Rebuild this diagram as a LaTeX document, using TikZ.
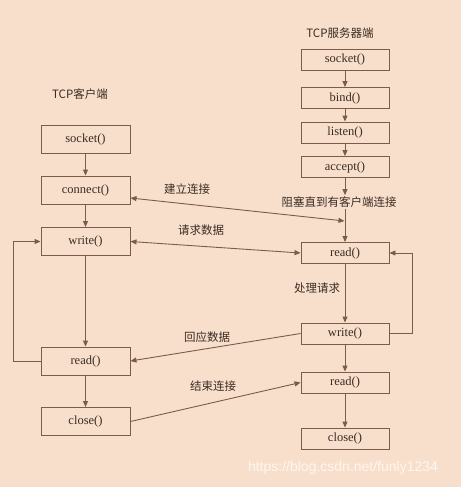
\documentclass[tikz,border=0pt]{standalone}
\usepackage{fontspec}
\setmainfont{Liberation Serif}
\newfontfamily\cjk{Noto Sans CJK SC}
\newfontfamily\wmfont{Liberation Sans}
\usetikzlibrary{arrows.meta,calc}
\definecolor{bgc}{HTML}{F7DFCC}
\definecolor{linec}{HTML}{7B5B4C}
\definecolor{txtc}{HTML}{3B2B22}
\definecolor{wmc}{HTML}{FFF6F0}
\begin{document}
\begin{tikzpicture}[x=1pt,y=-1pt,
  line width=0.9pt,
  every node/.style={text=txtc},
  cbox/.style={draw=linec,minimum width=89pt,minimum height=28pt,inner sep=0pt,font=\fontsize{12.5}{13}\selectfont},
  sbox/.style={draw=linec,minimum width=88pt,minimum height=21pt,inner sep=0pt,font=\fontsize{12.5}{13}\selectfont},
  lbl/.style={font=\cjk\fontsize{11.5}{13}\selectfont,inner sep=1pt},
  arr/.style={draw=linec,-{Triangle[length=6pt,width=5pt]}},
  darr/.style={draw=linec,{Triangle[length=6pt,width=5pt]}-{Triangle[length=6pt,width=5pt]}},
  ln/.style={draw=linec}]
\fill[bgc] (0,0) rectangle (461,487);
\useasboundingbox (0,0) rectangle (461,487);

% titles
\node[lbl] (tserver) at (340,33) {TCP服务器端};
\node[lbl] (tclient) at (80,94) {TCP客户端};

% client boxes
\node[cbox] (csocket) at (85.5,139) {socket()};
\node[cbox] (cconnect) at (85.5,190) {connect()};
\node[cbox] (cwrite) at (85.5,241.5) {write()};
\node[cbox] (cread) at (85.5,361) {read()};
\node[cbox] (cclose) at (85.5,421.5) {close()};

% server boxes
\node[sbox] (ssocket) at (345,59.5) {socket()};
\node[sbox] (sbind) at (345,98) {bind()};
\node[sbox] (slisten) at (345,132.5) {listen()};
\node[sbox] (saccept) at (345,167) {accept()};
\node[sbox] (sread) at (345,253) {read()};
\node[sbox] (swrite) at (345,333.5) {write()};
\node[sbox] (sread2) at (345,382.5) {read()};
\node[sbox] (sclose) at (345,438.5) {close()};

% labels
\node[lbl] (blk) at (339,202) {阻塞直到有客户端连接};
\node[lbl] (lconn) at (187,189) {建立连接};
\node[lbl] (lreq) at (201,230) {请求数据};
\node[lbl] (lproc) at (317,288) {处理请求};
\node[lbl] (lresp) at (207,337) {回应数据};
\node[lbl] (lend) at (213,386) {结束连接};

% client vertical
\draw[arr] (csocket) -- (cconnect);
\draw[arr] (cconnect) -- (cwrite);
\draw[arr] (cwrite) -- (cread);
\draw[arr] (cread) -- (cclose);
\draw[arr] (cread.west) -- ++(-27,0) |- (cwrite.west);

% server vertical
\draw[arr] (ssocket) -- (sbind);
\draw[arr] (sbind) -- (slisten);
\draw[arr] (slisten) -- (saccept);
\coordinate (bt) at (saccept.south |- blk.north);
\coordinate (bb) at (saccept.south |- blk.south);
\coordinate (meet) at (345,221);
\draw[arr] (saccept) -- (bt);
\draw[arr] (bb) -- (sread);
\draw[arr] (sread) -- (swrite);
\draw[arr] (swrite) -- (sread2);
\draw[arr] (sread2) -- (sclose);
\draw[arr] (swrite.east) -- ++(23,0) |- (sread.east);

% cross connectors
\draw[darr] ([yshift=-8pt]cconnect.east) -- ([xshift=-0.5pt]meet);
\draw[darr] (cwrite.east) -- (sread.west);
\draw[arr] (swrite.west) -- (cread.east);
\draw[arr] (cclose.east) -- (sread2.west);

% watermark
\node[text=wmc,font=\wmfont\fontsize{14}{16}\selectfont,inner sep=0pt] (wm) at (343,468) {https://blog.csdn.net/funly1234};
\end{tikzpicture}
\end{document}
